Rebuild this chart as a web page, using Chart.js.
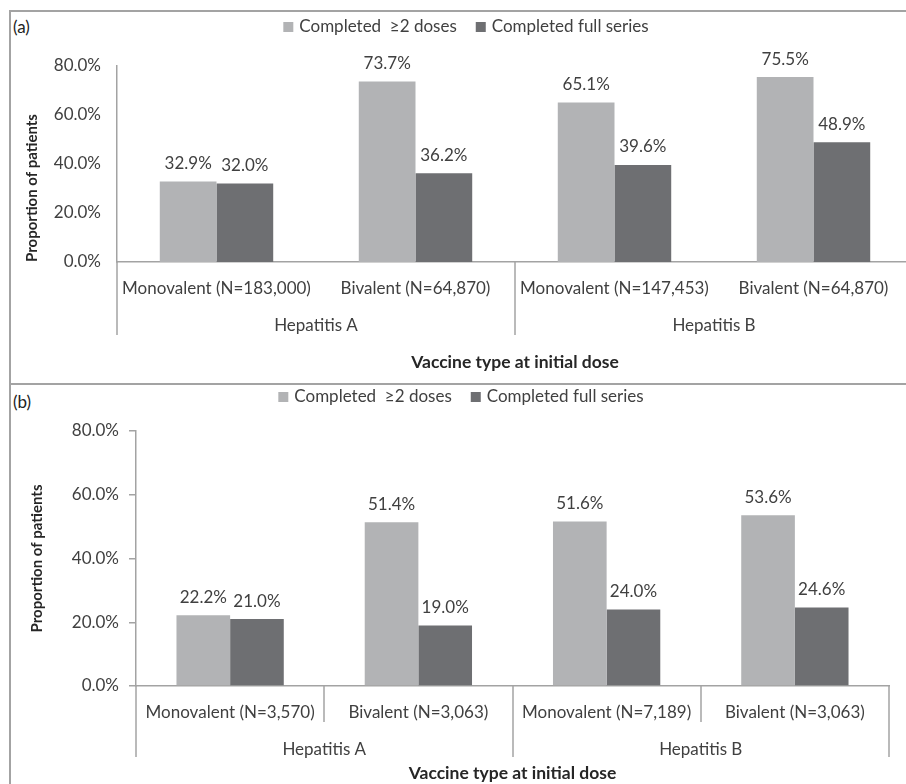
<!DOCTYPE html>
<html>
<head>
<meta charset="utf-8">
<script src="https://cdn.jsdelivr.net/npm/chart.js@4/dist/chart.umd.min.js"></script>
<style>
    html, body { margin: 0; padding: 0; background: #fff; overflow: hidden; width: 906px; height: 784px; }
    .frame { position: absolute; border: 2px solid #a3a3a3; box-sizing: border-box; }
    canvas { position: absolute; left: 0; }
    .tag { position: absolute; font: 17px Lato, sans-serif; color: #222; }
</style>
</head>
<body>
<div class="frame" style="left:9px; top:10px; width:1000px; height:375px;"></div>
<div class="frame" style="left:9px; top:383px; width:1000px; height:500px;"></div>
<div class="tag" style="left:13px; top:16px;">(a)</div>
<div class="tag" style="left:13px; top:391px;">(b)</div>
<canvas id="chartA" width="930" height="383" style="top:0"></canvas>
<canvas id="chartB" width="906" height="401" style="top:383px"></canvas>
<script>
const FONT = 'Lato, "Open Sans", sans-serif';
const TEXT = '#404040';
const AXIS = '#a3a3a3';

const groups = ['Hepatitis A', 'Hepatitis B'];
const seriesNames = ['Completed  ≥2 doses', 'Completed full series'];
const seriesColors = ['#b2b3b5', '#6e6f72'];
const yTicks = [0, 20, 40, 60, 80];

// panel (a)
const labelsA = ['Monovalent (N=183,000)', 'Bivalent (N=64,870)', 'Monovalent (N=147,453)', 'Bivalent (N=64,870)'];
const twoDosesA = [32.9, 73.7, 65.1, 75.5];
const fullSeriesA = [32.0, 36.2, 39.6, 48.9];

// panel (b)
const labelsB = ['Monovalent (N=3,570)', 'Bivalent (N=3,063)', 'Monovalent (N=7,189)', 'Bivalent (N=3,063)'];
const twoDosesB = [22.2, 51.4, 51.6, 53.6];
const fullSeriesB = [21.0, 19.0, 24.0, 24.6];

// percentage written above each bar
const valueLabels = {
    id: 'valueLabels',
    afterDatasetsDraw(chart) {
        const ctx = chart.ctx;
        ctx.save();
        ctx.font = '17px ' + FONT;
        ctx.fillStyle = TEXT;
        ctx.textAlign = 'center';
        ctx.textBaseline = 'middle';
        chart.data.datasets.forEach((ds, i) => {
            chart.getDatasetMeta(i).data.forEach((bar, j) => {
                ctx.fillText(ds.data[j].toFixed(1) + '%', bar.x, bar.y - 18);
            });
        });
        ctx.restore();
    }
};

// one-row legend built from the datasets
const legendRow = {
    id: 'legendRow',
    afterDraw(chart, args, opts) {
        const ctx = chart.ctx;
        ctx.save();
        ctx.font = '17px ' + FONT;
        ctx.textBaseline = 'middle';
        const items = chart.data.datasets.map(ds => ({
            text: ds.label, color: ds.backgroundColor, w: ctx.measureText(ds.label).width
        }));
        const box = 10, gap = 6, spacing = 19;
        const total = items.reduce((s, it) => s + box + gap + it.w, 0) + spacing * (items.length - 1);
        let x = opts.cx - total / 2;
        items.forEach(it => {
            ctx.fillStyle = it.color;
            ctx.fillRect(x, opts.y - box / 2, box, box);
            x += box + gap;
            ctx.fillStyle = TEXT;
            ctx.fillText(it.text, x, opts.y);
            x += it.w + spacing;
        });
        ctx.restore();
    }
};

// vertical lines between categories below the x axis
const separators = {
    id: 'separators',
    afterDraw(chart, args, opts) {
        const x = chart.scales.x;
        const ctx = chart.ctx;
        const n = x.getLabels().length;
        const edge = i => i === 0 ? x.left : i === n ? x.right
            : (x.getPixelForValue(i - 1) + x.getPixelForValue(i)) / 2;
        ctx.save();
        ctx.strokeStyle = AXIS;
        ctx.lineWidth = 1.5;
        for (let i = 0; i <= n; i++) {
            const len = i % 2 === 0 ? opts.outer : opts.inner;
            if (!len) continue;
            const px = Math.round(edge(i));
            ctx.beginPath();
            ctx.moveTo(px, x.top);
            ctx.lineTo(px, x.top + len);
            ctx.stroke();
        }
        ctx.restore();
    }
};

function makeChart(id, labels, twoDoses, fullSeries, p) {
    return new Chart(document.getElementById(id), {
        type: 'bar',
        data: {
            labels: labels,
            datasets: [
                { label: seriesNames[0], data: twoDoses, backgroundColor: seriesColors[0] },
                { label: seriesNames[1], data: fullSeries, backgroundColor: seriesColors[1] }
            ]
        },
        options: {
            responsive: false,
            animation: false,
            events: [],
            layout: { padding: { top: p.top, left: 12, right: 17, bottom: 0 } },
            datasets: { bar: { barPercentage: 1, categoryPercentage: 0.57 } },
            scales: {
                y: {
                    min: 0,
                    max: 80,
                    afterBuildTicks: s => { s.ticks = yTicks.map(v => ({ value: v })); },
                    afterFit: s => { s.width = p.yWidth; },
                    border: { color: AXIS, width: 1.5 },
                    grid: {
                        display: p.yTicks, drawTicks: p.yTicks, drawOnChartArea: false,
                        color: AXIS, lineWidth: 1.5, tickLength: 7
                    },
                    ticks: {
                        padding: p.yPad, color: TEXT, font: { family: FONT, size: 17 },
                        callback: v => v.toFixed(1) + '%'
                    },
                    title: {
                        display: true, text: 'Proportion of patients', align: p.titleAlign,
                        color: '#262626', font: { family: FONT, size: 15, weight: 'bold' },
                        padding: { top: p.yTitlePad, bottom: 0 }
                    }
                },
                x: {
                    weight: 0,
                    afterFit: s => { s.height = p.xHeight; },
                    border: { color: AXIS, width: 1.5 },
                    grid: { display: false, drawTicks: false },
                    ticks: { padding: 16, color: TEXT, font: { family: FONT, size: 17 }, maxRotation: 0, autoSkip: false }
                },
                x2: {
                    type: 'category',
                    position: 'bottom',
                    weight: 1,
                    labels: groups,
                    offset: true,
                    afterFit: s => { s.height = p.x2Height; },
                    border: { display: false },
                    grid: { display: false, drawTicks: false },
                    ticks: { padding: p.groupPad, color: TEXT, font: { family: FONT, size: 17 }, maxRotation: 0 },
                    title: {
                        display: true, text: 'Vaccine type at initial dose',
                        color: '#262626', font: { family: FONT, size: 17.5, weight: 'bold' },
                        padding: { top: 0, bottom: p.x2TitlePad }
                    }
                }
            },
            plugins: {
                legend: { display: false },
                tooltip: { enabled: false },
                legendRow: { cx: p.legendX, y: p.legendY },
                separators: { outer: p.outerSep, inner: p.innerSep }
            }
        },
        plugins: [valueLabels, legendRow, separators]
    });
}

makeChart('chartA', labelsA, twoDosesA, fullSeriesA, {
    top: 66, yWidth: 105, yTicks: false, yPad: 16, titleAlign: 'start', yTitlePad: 11,
    xHeight: 38, x2Height: 83, groupPad: 15, x2TitlePad: 10.5,
    legendX: 466, legendY: 27, outerSep: 73, innerSep: 0
});

makeChart('chartB', labelsB, twoDosesB, fullSeriesB, {
    top: 48, yWidth: 124, yTicks: true, yPad: 10, titleAlign: 'center', yTitlePad: 16,
    xHeight: 36, x2Height: 62, groupPad: 17, x2TitlePad: 0.5,
    legendX: 461, legendY: 14, outerSep: 71, innerSep: 36
});
</script>
</body>
</html>
